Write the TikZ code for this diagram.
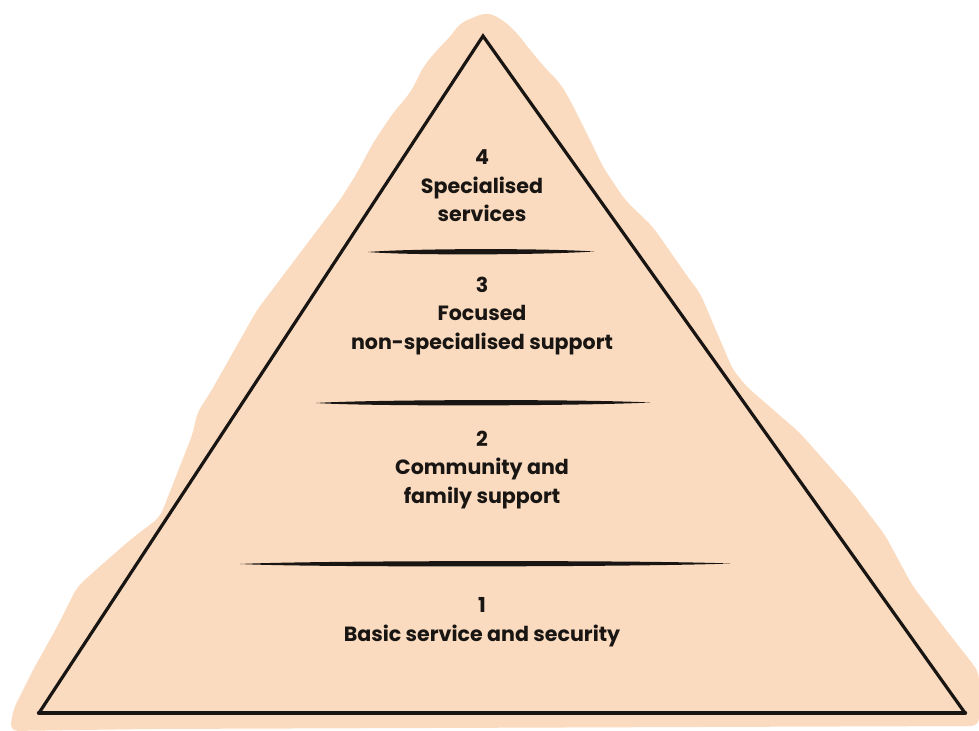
\documentclass[tikz,border=0pt]{standalone}
\usepackage{fontspec}
\setmainfont{Poppins}
\definecolor{peach}{RGB}{250,219,191}
\definecolor{ink}{RGB}{24,21,19}
\begin{document}
\begin{tikzpicture}
	[x=0.5pt,y=-0.5pt,
	every node/.style={align=center,text=ink,inner sep=0pt,font=\bfseries\fontsize{10.3}{14.3}\selectfont},
	side/.style={draw=ink,line width=1.6pt,line cap=round},
	base/.style={draw=ink,line width=2.2pt,line cap=round},
	brush/.style={fill=ink}
	]
	\useasboundingbox (0,0) rectangle (979,731);
	% paper cut-out behind the pyramid
	\fill[peach,rounded corners=4] (487,12) -- (503,20) -- (517,33) -- (530,50) -- (547,70)
		-- (560,83) -- (570,100) -- (580,120) -- (590,140) -- (603,167) -- (625,200)
		-- (653,227) -- (690,280) -- (700,293) -- (733,370) -- (747,387) -- (800,433)
		-- (853,493) -- (885,535) -- (912,585) -- (947,631) -- (979,672) -- (979,726)
		-- (700,727) -- (430,728) -- (150,729) -- (10,731) -- (13,710) -- (33,670)
		-- (57,627) -- (77,587) -- (98,568) -- (130,540) -- (160,517) -- (193,433)
		-- (197,413) -- (210,393) -- (257,310) -- (297,257) -- (340,200) -- (357,173)
		-- (373,143) -- (393,113) -- (410,93) -- (417,80) -- (423,67) -- (437,50)
		-- (450,37) -- (460,23) -- cycle;
	% pyramid
	\coordinate (top) at (483,36);
	\coordinate (bl) at (39,713);
	\coordinate (br) at (965,713);
	\draw[side] (bl) -- (top) -- (br);
	\draw[base] (bl) -- (br);
	% brush strokes between the levels
	\fill[brush] (368,252) .. controls (410,248.5) and (540,248) .. (594,251.5)
		.. controls (540,255) and (410,255.5) .. (368,252) -- cycle;
	\fill[brush] (316,403) .. controls (370,399.5) and (580,399) .. (650,402.5)
		.. controls (580,406) and (370,406.5) .. (316,403) -- cycle;
	\fill[brush] (240,564) .. controls (310,560.5) and (640,560) .. (730,563.5)
		.. controls (640,567) and (310,567.5) .. (240,564) -- cycle;
	% levels
	\node (l4) at (482,186) {4\\Specialised\\services};
	\node (l3) at (482,316) {3\\Focused\\non-specialised support};
	\node (l2) at (482,470) {2\\Community and\\family support};
	\node (l1) at (482,622) {1\\Basic service and security};
\end{tikzpicture}
\end{document}
